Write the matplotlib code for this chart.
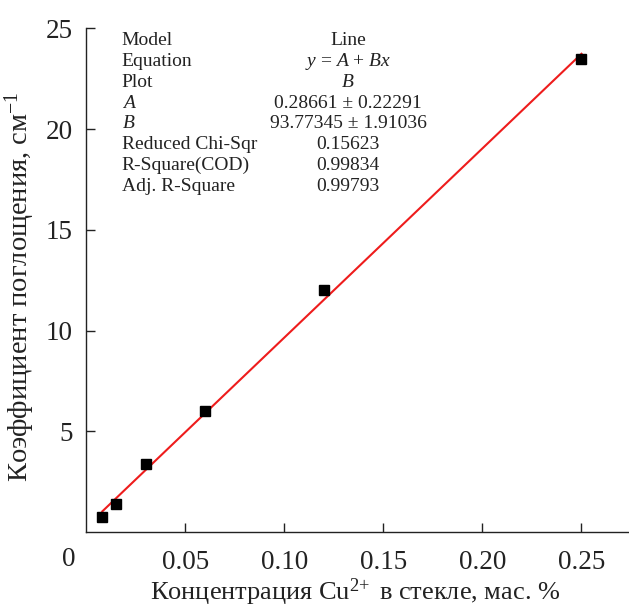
import numpy as np
import matplotlib.pyplot as plt

# Cu2+ concentration (wt. %) vs absorption coefficient (cm^-1)
conc = [0.008, 0.015, 0.030, 0.060, 0.120, 0.250]
absorb = [0.74, 1.42, 3.39, 5.99, 12.04, 23.45]

# linear fit parameters shown in the table
fit_a = 0.28661
fit_b = 93.77345

table_names = ['Model', 'Equation', 'Plot', '$A$', '$B$',
               'Reduced Chi-Sqr', 'R-Square(COD)', 'Adj. R-Square']
table_values = ['Line', '$y$ = $A$ + $Bx$', '$B$', '0.28661 ± 0.22291',
                '93.77345 ± 1.91036', '0.15623', '0.99834', '0.99793']

xticks = [0.05, 0.10, 0.15, 0.20, 0.25]
xticklabels = ['0.05', '0.10', '0.15', '0.20', '0.25']
yticks = [5, 10, 15, 20, 25]

plt.rcParams['font.family'] = ['Liberation Serif', 'DejaVu Serif']
plt.rcParams['mathtext.fontset'] = 'custom'
plt.rcParams['mathtext.rm'] = 'Liberation Serif'
plt.rcParams['mathtext.it'] = 'Liberation Serif:italic'

fig = plt.figure(figsize=(6.29, 6.13), dpi=100)
ax = fig.add_axes([0.1375, 0.1317, 0.8625, 0.8223])

xs = np.array([conc[0], conc[-1]])
ax.plot(xs, fit_a + fit_b * xs, color='#ee1c1c', lw=1.5, zorder=2)
ax.plot(conc, absorb, 's', color='black', ms=7.5, zorder=3)

ax.set_xlim(0, 0.274)
ax.set_ylim(0, 25)
ax.set_xticks(xticks)
ax.set_xticklabels(xticklabels)
ax.set_yticks(yticks)
for s in ['top', 'right']:
    ax.spines[s].set_visible(False)
for s in ['left', 'bottom']:
    ax.spines[s].set_color('#222222')
    ax.spines[s].set_linewidth(1.0)
ax.tick_params(direction='in', length=6.5, width=1, labelsize=19.5, colors='#222222')
ax.tick_params(axis='x', pad=13)
ax.tick_params(axis='y', pad=10)
ax.text((69 - 86.5) / 542.5, (532.3 - 560) / 504.1, '0', transform=ax.transAxes,
        ha='center', va='center', fontsize=19.5, color='#222222')

ax.set_xlabel(r'Концентрация Cu$^{2\!+}$ в стекле, мас. %', fontsize=19, color='#222222')
ax.set_ylabel('Коэффициент поглощения, см$^{-1}$', fontsize=20.5, color='#222222')
ax.xaxis.label.set_va('center')
ax.yaxis.label.set_va('center')
ax.xaxis.set_label_coords(0.495, -0.1184)
ax.yaxis.set_label_coords(-0.1226, 0.4876)

for i, (n, v) in enumerate(zip(table_names, table_values)):
    y = 40.7 + i * 20.8
    fig.text(121.5 / 629, 1 - y / 613, n, ha='left', va='center', fontsize=14, color='#222222')
    fig.text(348 / 629, 1 - y / 613, v, ha='center', va='center', fontsize=14, color='#222222')

fig.savefig('out.png', dpi=100)
